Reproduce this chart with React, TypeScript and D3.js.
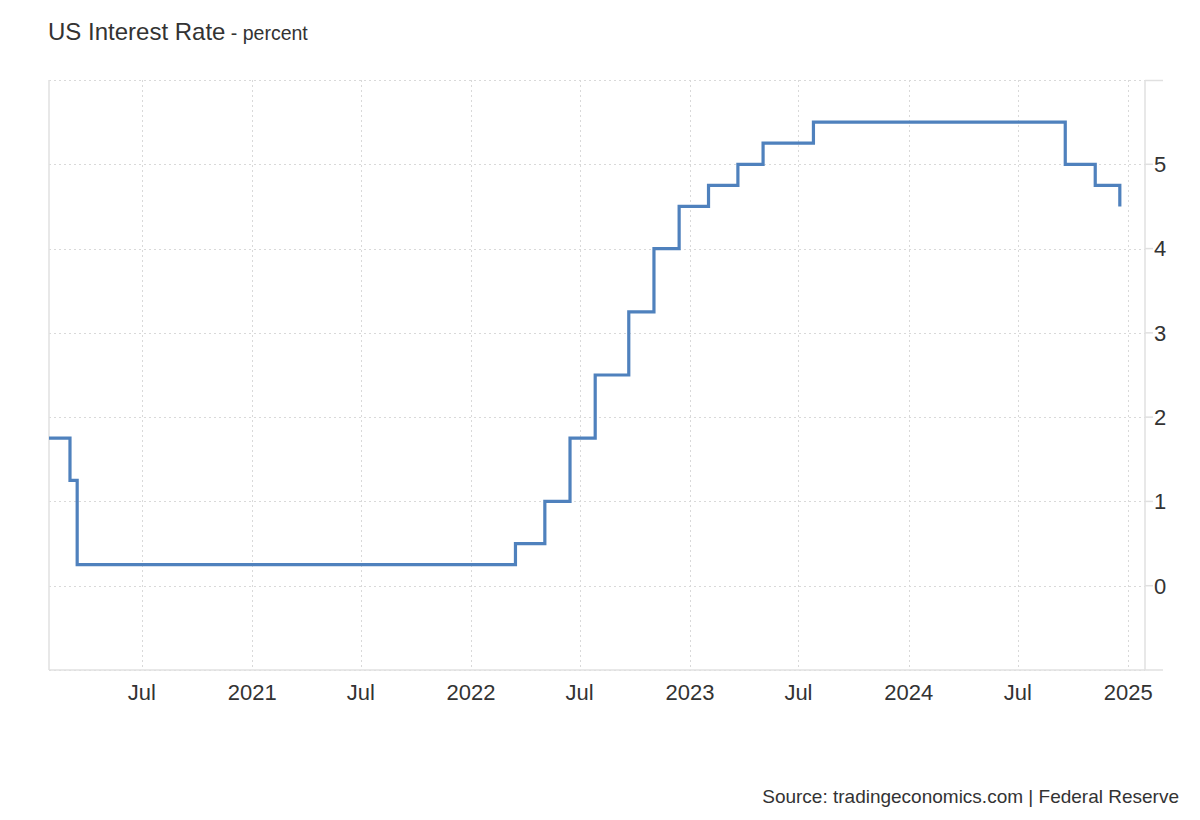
import React from "react"
import * as d3 from "d3"

// Fed funds target rate (upper bound) decisions
const rateDates = [
  "2020-01-28", "2020-03-03", "2020-03-15", "2022-03-16", "2022-05-04",
  "2022-06-15", "2022-07-27", "2022-09-21", "2022-11-02", "2022-12-14",
  "2023-02-01", "2023-03-22", "2023-05-03", "2023-07-26", "2024-09-18",
  "2024-11-07", "2024-12-18",
]
const rateValues = [
  1.75, 1.25, 0.25, 0.5, 1.0,
  1.75, 2.5, 3.25, 4.0, 4.5,
  4.75, 5.0, 5.25, 5.5, 5.0,
  4.75, 4.5,
]

const xTickDates = [
  "2020-07-01", "2021-01-01", "2021-07-01", "2022-01-01", "2022-07-01",
  "2023-01-01", "2023-07-01", "2024-01-01", "2024-07-01", "2025-01-01",
]
const xTickLabels = ["Jul", "2021", "Jul", "2022", "Jul", "2023", "Jul", "2024", "Jul", "2025"]
const yTicks = [0, 1, 2, 3, 4, 5]
const yGrid = [-1, 0, 1, 2, 3, 4, 5, 6]

const parse = d3.utcParse("%Y-%m-%d")
const FONT = "'Liberation Sans', Arial, Helvetica, sans-serif"

export default function App() {
  const width = 1200
  const height = 820
  const left = 49
  const right = 1145
  const top = 80
  const bottom = 670

  const x = d3
    .scaleUtc()
    .domain([parse("2020-01-28")!, parse("2025-01-29")!])
    .range([left, right])
  const y = d3.scaleLinear().domain([-1, 6]).range([bottom, top])

  const data = rateDates.map((d, i) => ({ date: parse(d)!, value: rateValues[i] }))

  const line = d3
    .line<{ date: Date; value: number }>()
    .x((d) => x(d.date))
    .y((d) => y(d.value))
    .curve(d3.curveStepAfter)

  const gridColor = "#d9d9d9"
  const axisColor = "#e0e0e0"

  return (
    <svg
      width={width}
      height={height}
      style={{ position: "absolute", left: 0, top: 0, background: "#fff" }}
      fontFamily={FONT}
    >
      {/* title */}
      <text x={48} y={40} fill="#333" fontSize={24}>
        US Interest Rate
        <tspan fontSize={19.5} fill="#333"> - percent</tspan>
      </text>

      {/* horizontal grid */}
      {yGrid.map((v) => (
        <line
          key={"hg" + v}
          x1={left}
          x2={right}
          y1={Math.round(y(v)) + 0.5}
          y2={Math.round(y(v)) + 0.5}
          stroke={gridColor}
          strokeDasharray="2,3"
        />
      ))}

      {/* vertical grid */}
      {xTickDates.map((d) => (
        <line
          key={"vg" + d}
          x1={Math.round(x(parse(d)!)) + 0.5}
          x2={Math.round(x(parse(d)!)) + 0.5}
          y1={top}
          y2={bottom}
          stroke={gridColor}
          strokeDasharray="2,3"
        />
      ))}

      {/* left frame line */}
      <line x1={left} x2={left} y1={top} y2={bottom} stroke={axisColor} strokeWidth={1.5} />
      {/* right axis line */}
      <line x1={right} x2={right} y1={top} y2={bottom} stroke={axisColor} strokeWidth={1.5} />
      {/* bottom axis line */}
      <line x1={left} x2={1163} y1={bottom} y2={bottom} stroke={axisColor} strokeWidth={1.5} />
      {/* top tick */}
      <line x1={right} x2={1163} y1={Math.round(y(6)) + 0.5} y2={Math.round(y(6)) + 0.5} stroke={axisColor} strokeWidth={1.5} />

      {/* y ticks and labels */}
      {yTicks.map((v) => (
        <g key={"yt" + v}>
          <line x1={right} x2={right + 8} y1={y(v)} y2={y(v)} stroke={axisColor} strokeWidth={1.5} />
          <text x={right + 9} y={y(v)} dy="0.36em" fontSize={22} fill="#333">
            {v}
          </text>
        </g>
      ))}

      {/* x labels */}
      {xTickDates.map((d, i) => (
        <text
          key={"xl" + d}
          x={x(parse(d)!)}
          y={700}
          textAnchor="middle"
          fontSize={22}
          fill="#333"
        >
          {xTickLabels[i]}
        </text>
      ))}

      {/* series */}
      <path d={line(data) ?? ""} fill="none" stroke="#4f81bd" strokeWidth={3.2} strokeLinejoin="miter" />

      {/* source */}
      <text x={1179} y={803} textAnchor="end" fontSize={19} fill="#333">
        Source: tradingeconomics.com | Federal Reserve
      </text>
    </svg>
  )
}
